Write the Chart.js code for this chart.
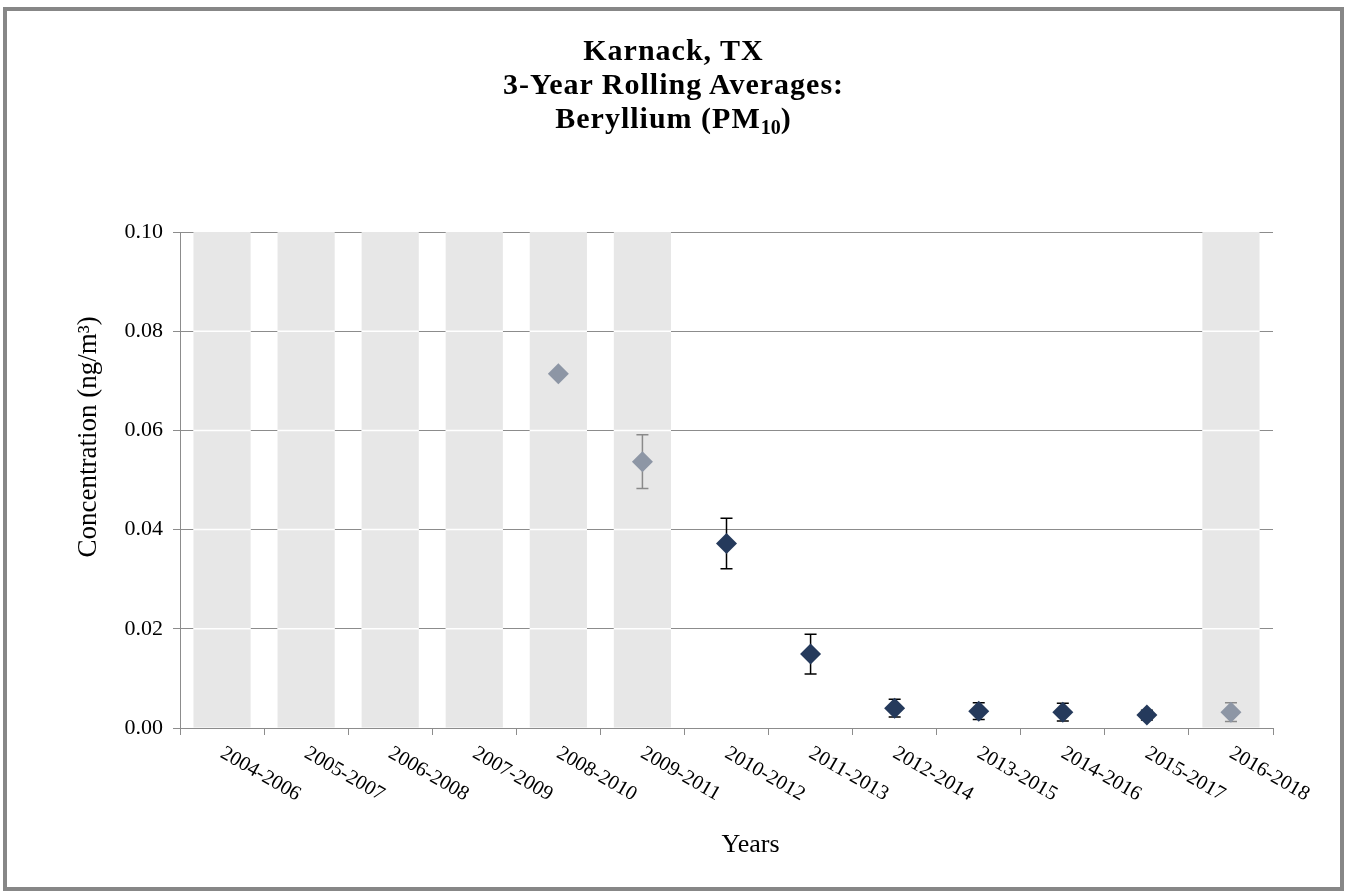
<!DOCTYPE html>
<html>
<head>
<meta charset="utf-8">
<script src="https://cdn.jsdelivr.net/npm/chart.js@4/dist/chart.umd.min.js"></script>
<style>
  html, body { margin: 0; padding: 0; background: #fff; }
  #wrap { position: relative; width: 1347px; height: 894px; }
  #frame {
    position: absolute; left: 3px; top: 7px; width: 1341px; height: 884px;
    box-sizing: border-box; border: 4px solid #878787; pointer-events: none;
  }
  #title {
    position: absolute; left: 0; top: 33px; width: 1347px; text-align: center;
    font: bold 30px "Liberation Serif", "Times New Roman", serif; line-height: 34px;
    letter-spacing: 1px; color: #000;
  }
  #title sub { font-size: 20px; line-height: 0; vertical-align: -6px; letter-spacing: 0; }
  canvas { position: absolute; left: 0; top: 0; }
</style>
</head>
<body>
<div id="wrap">
  <canvas id="chart" width="1347" height="894"></canvas>
  <div id="title">Karnack, TX<br>3-Year Rolling Averages:<br>Beryllium (PM<sub>10</sub>)</div>
  <div id="frame"></div>
</div>
<script>
// categories: 3-year periods
const periods = ['2004-2006', '2005-2007', '2006-2008', '2007-2009', '2008-2010', '2009-2011',
  '2010-2012', '2011-2013', '2012-2014', '2013-2015', '2014-2016', '2015-2017', '2016-2018'];

// rolling average concentration (ng/m3), null where no average
const averages = [null, null, null, null, 0.0714, 0.0537, 0.0372, 0.0149, 0.0040, 0.0034, 0.0032, 0.0026, 0.0032];
// half-width of the error bars
const errors = [null, null, null, null, null, 0.0054, 0.0051, 0.0040, 0.0018, 0.0017, 0.0018, 0.0010, 0.0019];
// periods shaded grey (incomplete data) - full height bands
const shaded = [0.10, 0.10, 0.10, 0.10, 0.10, 0.10, null, null, null, null, null, null, 0.10];
// which points are drawn in the light colour
const incomplete = [true, true, true, true, true, true, false, false, false, false, false, false, true];

const yTicks = [0, 0.02, 0.04, 0.06, 0.08, 0.10];

const DARK = '#253a5c';
const LIGHT = '#8d96a5';
const SERIF = '"Liberation Serif", "Times New Roman", serif';

// white seams across the bands at the gridlines, then the error bars,
// all before the diamonds are drawn
const errorBars = {
  id: 'errorBars',
  afterDatasetDraw(chart, args) {
    if (args.index !== 0) return;
    const { ctx, scales: { x, y } } = chart;
    ctx.save();
    ctx.strokeStyle = '#ffffff';
    ctx.lineWidth = 1.5;
    args.meta.data.forEach((bar, i) => {
      if (shaded[i] == null) return;
      yTicks.slice(1, -1).forEach(t => {
        const py = y.getPixelForValue(t);
        ctx.beginPath();
        ctx.moveTo(bar.x - bar.width / 2, py);
        ctx.lineTo(bar.x + bar.width / 2, py);
        ctx.stroke();
      });
    });
    for (let i = 0; i < periods.length; i++) {
      if (averages[i] == null || errors[i] == null) continue;
      const px = x.getPixelForValue(i);
      const top = y.getPixelForValue(averages[i] + errors[i]);
      const bot = y.getPixelForValue(averages[i] - errors[i]);
      ctx.strokeStyle = incomplete[i] ? '#8a8a8a' : '#000';
      ctx.beginPath();
      ctx.moveTo(px, top); ctx.lineTo(px, bot);
      ctx.moveTo(px - 6, top); ctx.lineTo(px + 6, top);
      ctx.moveTo(px - 6, bot); ctx.lineTo(px + 6, bot);
      ctx.stroke();
    }
    ctx.restore();
  }
};

// x labels slanting down to the right (chart.js only rotates the other way),
// the axis titles, which sit a little off the centre of their axes
const extraText = {
  id: 'extraText',
  afterDraw(chart) {
    const { ctx, scales: { x, y } } = chart;
    ctx.save();
    ctx.font = '20.5px ' + SERIF;
    ctx.fillStyle = '#000';
    ctx.textAlign = 'left';
    ctx.textBaseline = 'top';
    periods.forEach((p, i) => {
      const px = x.getPixelForTick(i);
      ctx.save();
      ctx.translate(px + 5, x.top + 15);
      ctx.rotate(30 * Math.PI / 180);
      ctx.fillText(p, 0, 0);
      ctx.restore();
    });
    ctx.textAlign = 'center';
    ctx.textBaseline = 'middle';
    ctx.font = '26px ' + SERIF;
    ctx.fillText('Years', x.getPixelForDecimal(0.522), 845);
    ctx.font = '27px ' + SERIF;
    ctx.translate(89, y.getPixelForValue(0.0587));
    ctx.rotate(-Math.PI / 2);
    ctx.fillText('Concentration (ng/m³)', 0, 0);
    ctx.restore();
  }
};

new Chart(document.getElementById('chart'), {
  type: 'bar',
  data: {
    labels: periods,
    datasets: [
      {
        type: 'bar',
        data: shaded,
        backgroundColor: '#e7e7e7',
        barPercentage: 0.68,
        categoryPercentage: 1,
        order: 2
      },
      {
        type: 'line',
        data: averages,
        showLine: false,
        pointStyle: 'rectRot',
        pointRadius: 10.5,
        pointBorderWidth: 0,
        pointBackgroundColor: incomplete.map(f => f ? LIGHT : DARK),
        pointBorderColor: incomplete.map(f => f ? LIGHT : DARK),
        order: 1
      }
    ]
  },
  options: {
    responsive: false,
    animation: false,
    layout: { padding: { left: 70, top: 232, right: 74, bottom: 30 } },
    plugins: { legend: { display: false }, tooltip: { enabled: false } },
    scales: {
      x: {
        offset: true,
        grid: { offset: true, drawOnChartArea: false, tickLength: 7, color: '#8c8c8c' },
        border: { color: '#8c8c8c' },
        ticks: { display: false },
        afterFit(scale) { scale.height = 136; }
      },
      y: {
        min: 0, max: 0.10,
        afterBuildTicks(scale) { scale.ticks = yTicks.map(v => ({ value: v })); },
        grid: { color: '#8c8c8c', tickLength: 7 },
        border: { color: '#8c8c8c' },
        ticks: {
          font: { family: SERIF, size: 22 }, color: '#000', padding: 10,
          callback: v => v.toFixed(2)
        },
        afterFit(scale) { scale.width = 110; }
      }
    }
  },
  plugins: [errorBars, extraText]
});
</script>
</body>
</html>
